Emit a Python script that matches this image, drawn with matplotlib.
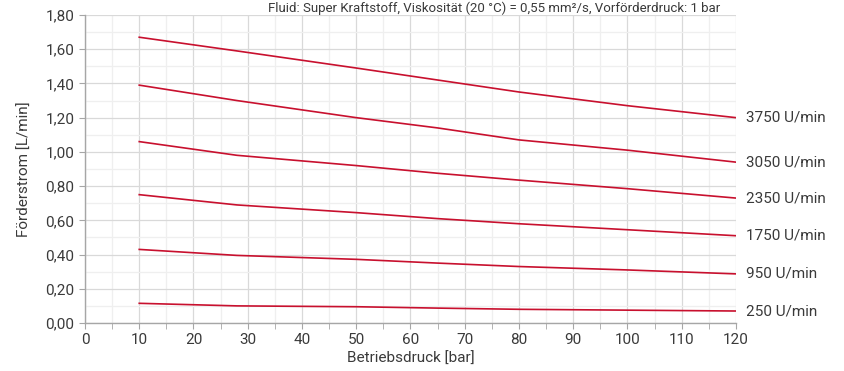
import matplotlib
matplotlib.use('Agg')
import matplotlib.pyplot as plt
from matplotlib.ticker import MultipleLocator, FuncFormatter

plt.rcParams['font.family'] = ['Roboto', 'DejaVu Sans']

# Betriebsdruck [bar]
pressure = [10, 28, 50, 65, 80, 100, 120]

# Förderstrom [L/min] per speed
flow_3750 = [1.67, 1.59, 1.49, 1.42, 1.35, 1.27, 1.20]
flow_3050 = [1.39, 1.30, 1.20, 1.14, 1.07, 1.01, 0.94]
flow_2350 = [1.06, 0.98, 0.92, 0.875, 0.835, 0.785, 0.73]
flow_1750 = [0.75, 0.69, 0.645, 0.61, 0.58, 0.545, 0.51]
flow_950 = [0.43, 0.395, 0.372, 0.35, 0.33, 0.31, 0.287]
flow_250 = [0.115, 0.10, 0.095, 0.087, 0.08, 0.075, 0.07]

series = [flow_3750, flow_3050, flow_2350, flow_1750, flow_950, flow_250]
speed_labels = ['3750 U/min', '3050 U/min', '2350 U/min',
                '1750 U/min', '950 U/min', '250 U/min']

title = 'Fluid: Super Kraftstoff, Viskosität (20 °C) = 0,55 mm²/s, Vorförderdruck: 1 bar'

fig = plt.figure(figsize=(8.44, 3.71), dpi=100)
ax = fig.add_axes([0.1007, 0.1294, 0.7713, 0.8302])

red = '#C8102E'
text_col = '#3A3A3A'
for flow, lab in zip(series, speed_labels):
    ax.plot(pressure, flow, color=red, lw=1.2, zorder=3)
    ax.annotate(lab, xy=(pressure[-1], flow[-1]), xytext=(7, 0),
                textcoords='offset points', va='center', ha='left',
                fontsize=11, color=text_col, annotation_clip=False)

ax.set_xlim(0, 120)
ax.set_ylim(0, 1.8)
ax.xaxis.set_major_locator(MultipleLocator(10))
ax.xaxis.set_minor_locator(MultipleLocator(5))
ax.yaxis.set_major_locator(MultipleLocator(0.2))
ax.yaxis.set_minor_locator(MultipleLocator(0.1))
ax.yaxis.set_major_formatter(FuncFormatter(lambda v, p: f'{v:.2f}'.replace('.', ',')))

ax.grid(which='major', color='#D9D9D9', lw=0.9)
ax.grid(which='minor', color='#EFEFEF', lw=0.9)
ax.set_axisbelow(True)

for s in ['top', 'right']:
    ax.spines[s].set_visible(False)
for s in ['left', 'bottom']:
    ax.spines[s].set_color('#A6A6A6')
    ax.spines[s].set_linewidth(1.0)

ax.tick_params(which='both', colors='#A6A6A6', labelcolor=text_col, labelsize=11)
ax.tick_params(which='major', length=4)
ax.tick_params(axis='x', which='minor', length=4)
ax.tick_params(axis='y', which='minor', length=0)

ax.set_xlabel('Betriebsdruck [bar]', fontsize=11, color=text_col, labelpad=3)
ax.set_ylabel('Förderstrom [L/min]', fontsize=11, color=text_col, labelpad=10)

fig.text(0.585, 0.997, title, ha='center', va='top', fontsize=9.5, color=text_col)

fig.savefig('out.png', dpi=100)
